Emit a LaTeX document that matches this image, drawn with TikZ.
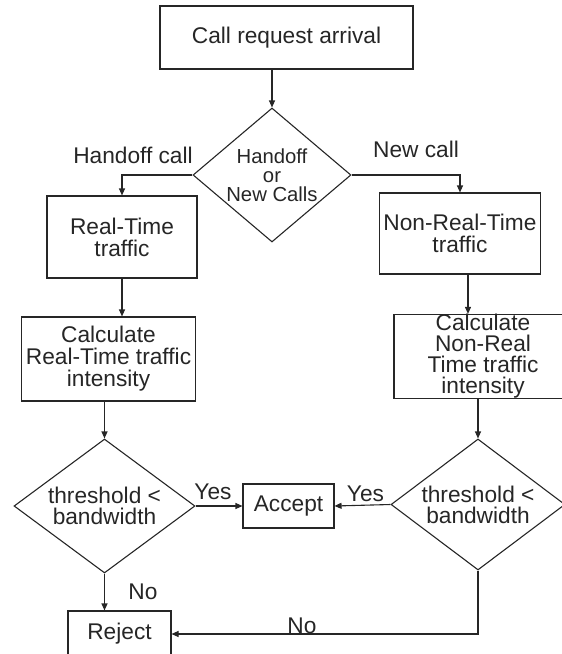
\documentclass[tikz,border=0pt]{standalone}
\usepackage{fontspec}
\setmainfont{Liberation Sans}
\usetikzlibrary{shapes.geometric,arrows.meta}

\begin{document}
\begin{tikzpicture}[->,>={Triangle[length=7pt,width=6pt]},x=1pt,y=-1pt,line width=1.1pt,color=black!85]
		\tikzstyle{box}  = [rectangle,draw,align=center,inner sep=0pt,font=\fontsize{22.7}{22}\selectfont]
		\tikzstyle{test} = [diamond,draw,align=center,inner sep=0pt,font=\fontsize{22.7}{21.2}\selectfont]
		\tikzstyle{lbl}  = [font=\fontsize{22.7}{22}\selectfont]
		
		\useasboundingbox (0,0) rectangle (562,654);
		
		\node[box,minimum width=253pt,minimum height=63pt] (arrival) at (286.5,37.5) {Call request arrival};
		\node[test,minimum width=158pt,minimum height=134pt,aspect=1.18,font=\fontsize{20.3}{19}\selectfont] (hnc) at (272,175) {Handoff\\or\\New Calls};
		\node[box,minimum width=150pt,minimum height=82pt] (rt)   at (122,237)   {Real-Time\\traffic};
		\node[box,minimum width=161pt,minimum height=81pt] (nrt)  at (460,233.5) {Non-Real-Time\\traffic};
		\node[box,minimum width=174pt,minimum height=84pt] (calcrt)  at (108.5,359) {Calculate\\Real-Time traffic\\intensity};
		\node[box,minimum width=178pt,minimum height=83pt,font=\fontsize{22.7}{21}\selectfont] (calcnrt) at (483,356.5) {Calculate\\Non-Real\\Time traffic\\intensity};
		\node[test,minimum width=181pt,minimum height=134pt,aspect=1.35] (thrt)  at (104.5,506) {threshold <\\bandwidth};
		\node[test,minimum width=174pt,minimum height=131pt,aspect=1.33] (thnrt) at (478,504.5) {threshold <\\bandwidth};
		\node[box,minimum width=91pt,minimum height=44pt]  (accept) at (288.5,506) {Accept};
		\node[box,minimum width=103pt,minimum height=46pt] (reject) at (119.5,634) {Reject};
		
		\node[lbl] (hcall) at (133,155) {Handoff call};
		\node[lbl] (ncall) at (416,149) {New call};
		\node[lbl] (yesrt)  at (213,492)   {Yes};
		\node[lbl] (yesnrt) at (365.5,494) {Yes};
		\node[lbl] (nort)   at (143,592)   {No};
		\node[lbl] (nonrt)  at (302,626)   {No};
		
		\path (hnc.north |- arrival.south) edge (hnc.north);
		\draw (hnc.west) -| (rt.north);
		\draw (hnc.east) -| (nrt.north);
		\path (rt.south) edge (rt.south |- calcrt.north);
		\path ([xshift=8pt]nrt.south) edge ([xshift=8pt]nrt.south |- calcnrt.north);
		\path (thrt.north |- calcrt.south) edge (thrt.north);
		\path (thnrt.north |- calcnrt.south) edge (thnrt.north);
		\path (thrt.east)  edge (accept.west);
		\path (thnrt.west) edge (accept.east);
		\path (thrt.south) edge (thrt.south |- reject.north);
		\draw (thnrt.south) |- (reject.east);
	\end{tikzpicture}
\end{document}
